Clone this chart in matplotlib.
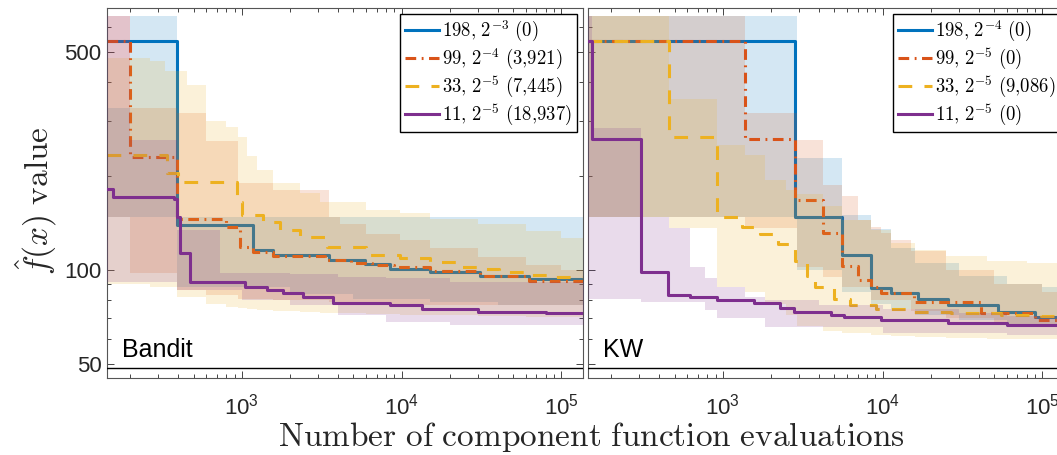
import numpy as np
import matplotlib.pyplot as plt
from matplotlib.font_manager import FontProperties
from matplotlib.ticker import FixedLocator, FixedFormatter, LogLocator, NullFormatter

plt.rcParams['font.family'] = ['Liberation Sans', 'DejaVu Sans']

colors = ['#0072BD', '#D95319', '#EDB120', '#7E2F8E']
dashes = [None, (3.5, 1.8, 0.6, 1.8), (4.5, 4.0), None]

# ---- Bandit panel: median lines (step, post) ----
bandit_198_x = [144, 394, 1177, 1570, 3500, 5900, 8450, 15100, 31000, 63000, 140000]
bandit_198_y = [540, 139, 116, 111.7, 107.7, 104.5, 101, 98.5, 96, 93.5, 91.7]
bandit_99_x = [144, 200, 394, 790, 976, 1177, 1570, 3300, 4800, 6500, 9000, 15100, 31000, 63000, 140000]
bandit_99_y = [540, 230, 145.7, 137.6, 118.8, 114.5, 110.9, 107.7, 105, 103.5, 102.5, 99, 95.5, 92.5, 90.6]
bandit_33_x = [144, 340, 400, 930, 1000, 1360, 1740, 2317, 3400, 6000, 9770, 15100, 23100, 31000, 41000, 63000, 90000, 140000]
bandit_33_y = [234, 205, 192, 165, 150, 142, 134.4, 127.8, 118.8, 112, 109.5, 106, 102.5, 100.5, 98.3, 96.2, 94.8, 93.4]
bandit_11_x = [144, 156, 374, 394, 411, 475, 1049, 1440, 1800, 2400, 3740, 8450, 13500, 30000, 80000, 140000]
bandit_11_y = [182, 171.5, 169, 148, 113, 91.5, 88.4, 86.3, 84.4, 82, 78.2, 77.2, 74.8, 73.5, 72.6, 72.2]

# ---- Bandit panel: min/max bands ----
bandit_198_bx = [144, 200, 394, 2000, 5000, 15000, 40000, 140000]
bandit_198_lo = [148, 148, 88, 84, 81, 79, 77.5, 77]
bandit_198_hi = [330, 649, 148, 148, 148, 148, 148, 148]
bandit_99_bx = [144, 200, 394, 598, 948, 1570, 3515, 4110, 6000, 9770, 15000, 30000, 60000, 100000, 140000]
bandit_99_lo = [148, 98, 86, 83, 81, 80, 79, 78.5, 78, 77.5, 77.2, 77, 77, 77, 77]
bandit_99_hi = [649, 330, 319, 258, 190, 181, 148, 140, 130, 125, 118, 110, 104, 100, 100]
bandit_33_bx = [144, 264, 331, 394, 455, 598, 798, 948, 1075, 1240, 1570, 2317, 3080, 6020, 9770, 15000, 30000, 60000, 100000, 140000]
bandit_33_lo = [90.5, 88, 88, 82, 82, 78, 76, 75.5, 75, 74.5, 74, 73.5, 73, 72.5, 72, 71.5, 71, 70.7, 70.7, 70.7]
bandit_33_hi = [478, 466, 435, 435, 392, 301, 288, 267, 231, 209, 190, 176, 165, 156, 152, 146, 140, 133, 127, 127]
bandit_11_bx = [144, 200, 394, 730, 1000, 2000, 4000, 8000, 20000, 140000]
bandit_11_lo = [91.5, 91.5, 86, 86, 80, 77, 72, 68, 66.5, 66.5]
bandit_11_hi = [649, 261, 134, 98, 98, 97, 95, 94, 91.5, 91.5]

# ---- KW panel: median lines ----
kw_198_x = [142, 2850, 5600, 8430, 11300, 16600, 25600, 52700, 90000, 140000]
kw_198_y = [540, 148, 111.7, 87.4, 84.2, 81, 77.5, 73.5, 70.5, 69.5]
kw_99_x = [142, 1380, 2850, 4220, 5600, 7000, 8430, 9790, 15700, 41500, 90000, 140000]
kw_99_y = [540, 262, 167.7, 131.6, 103.2, 92.9, 88.4, 84.2, 78.7, 72.6, 69, 68.3]
kw_33_x = [142, 460, 917, 1320, 1720, 2220, 2820, 3350, 3800, 4950, 6300, 9100, 14000, 27000, 55600, 99000, 140000]
kw_33_y = [540, 266, 148, 137, 130, 121, 107, 96, 88, 80.5, 77.2, 74.8, 73.5, 72.6, 71.7, 71.4, 71.4]
kw_11_x = [142, 151, 308, 454, 623, 916, 1560, 2290, 2770, 4730, 5720, 9790, 25600, 60000, 140000]
kw_11_y = [540, 262, 98.8, 83.2, 81.7, 80.1, 78.2, 75.4, 73.5, 71.7, 70.8, 69.2, 67.5, 66.5, 65.7]

# ---- KW panel: min/max bands ----
kw_198_bx = [142, 2900, 5600, 8430, 11300, 16000, 30000, 60000, 100000, 140000]
kw_198_lo = [148, 100, 85, 78, 75, 72, 69, 67, 66, 66]
kw_198_hi = [649, 228, 150, 135, 118, 105, 96, 90, 88, 88]
kw_99_bx = [142, 1380, 2900, 4220, 5600, 7000, 8430, 9800, 11300, 15000, 25000, 50000, 100000, 140000]
kw_99_lo = [148, 136, 102, 95, 88, 88, 80, 80, 80, 74, 70, 67, 67, 67]
kw_99_hi = [649, 318, 261, 187, 172, 145, 137.6, 131, 125, 115, 100, 90, 85, 85]
kw_33_bx = [142, 460, 917, 1380, 1845, 2500, 2900, 4220, 5600, 8430, 11300, 16000, 25000, 45000, 80000, 140000]
kw_33_lo = [148, 136, 88, 85, 78, 72, 66, 64, 63, 62, 61.5, 61, 60.5, 60, 60, 60]
kw_33_hi = [649, 352, 251, 234, 194, 180, 175, 160, 145, 134, 122, 116, 111, 107, 105, 105]
kw_11_bx = [142, 151, 308, 460, 620, 773, 916, 1380, 1845, 4000, 10000, 30000, 60000, 140000]
kw_11_lo = [81, 81, 79, 79, 79, 74.4, 70.2, 70.2, 65.5, 65.5, 63, 63, 62, 62]
kw_11_hi = [649, 285, 148, 136, 102, 94.3, 88.2, 82, 80, 77, 75, 73, 71, 71]

bandit_labels = [r'$198{,}\ 2^{-3}\ (0)$', r'$99{,}\ 2^{-4}\ (3{,}921)$',
                 r'$33{,}\ 2^{-5}\ (7{,}445)$', r'$11{,}\ 2^{-5}\ (18{,}937)$']
kw_labels = [r'$198{,}\ 2^{-4}\ (0)$', r'$99{,}\ 2^{-5}\ (0)$',
             r'$33{,}\ 2^{-5}\ (9{,}086)$', r'$11{,}\ 2^{-5}\ (0)$']

optimum = 48.5

bandit_lines = [(bandit_198_x, bandit_198_y), (bandit_99_x, bandit_99_y),
                (bandit_33_x, bandit_33_y), (bandit_11_x, bandit_11_y)]
bandit_bands = [(bandit_198_bx, bandit_198_lo, bandit_198_hi), (bandit_99_bx, bandit_99_lo, bandit_99_hi),
                (bandit_33_bx, bandit_33_lo, bandit_33_hi), (bandit_11_bx, bandit_11_lo, bandit_11_hi)]
kw_lines = [(kw_198_x, kw_198_y), (kw_99_x, kw_99_y), (kw_33_x, kw_33_y), (kw_11_x, kw_11_y)]
kw_bands = [(kw_198_bx, kw_198_lo, kw_198_hi), (kw_99_bx, kw_99_lo, kw_99_hi),
            (kw_33_bx, kw_33_lo, kw_33_hi), (kw_11_bx, kw_11_lo, kw_11_hi)]


def draw_panel(ax, lines, bands, labels, name, leg_loc, leg_anchor):
    handles = []
    for k in range(4):
        lx, ly = lines[k]
        bx, blo, bhi = bands[k]
        ln, = ax.step(lx, ly, where='post', color=colors[k], lw=2.2, zorder=2 + 0.2 * k)
        if dashes[k] is not None:
            ln.set_dashes(dashes[k])
        ax.fill_between(bx, blo, bhi, step='post', color=colors[k], alpha=0.17,
                        lw=0, zorder=2.1 + 0.2 * k)
        handles.append(ln)

    ax.axhline(optimum, color='black', lw=1, zorder=4)
    ax.set_xscale('log')
    ax.set_yscale('log')
    ax.set_xlim(143, 137000)
    ax.set_ylim(45.1, 690)

    ax.xaxis.set_major_locator(FixedLocator([1e3, 1e4, 1e5]))
    ax.xaxis.set_minor_locator(LogLocator(base=10, subs=np.arange(2, 10)))
    ax.xaxis.set_minor_formatter(NullFormatter())
    ax.yaxis.set_major_locator(FixedLocator([50, 100, 500]))
    ax.yaxis.set_major_formatter(FixedFormatter(['50', '100', '500']))
    ax.yaxis.set_minor_locator(FixedLocator([60, 70, 80, 90, 200, 300, 400, 600]))
    ax.yaxis.set_minor_formatter(NullFormatter())

    ax.tick_params(which='both', direction='in', top=True, right=True,
                   color='#262626', labelcolor='#262626', width=0.6)
    ax.tick_params(which='major', length=5)
    ax.tick_params(which='minor', length=2.8)
    ax.tick_params(axis='x', labelsize=16, pad=11)
    ax.tick_params(axis='y', labelsize=16, pad=4)
    for sp in ax.spines.values():
        sp.set_color('#555555')
        sp.set_linewidth(0.8)

    ax.text(0.031, 0.057, name, transform=ax.transAxes, fontsize=18,
            va='baseline', color='black', zorder=6)

    leg = ax.legend(handles, labels, loc=leg_loc, bbox_to_anchor=leg_anchor,
                    prop=FontProperties(size=13.5, math_fontfamily='cm'),
                    frameon=True, fancybox=False, edgecolor='black', framealpha=1,
                    borderpad=0.25, labelspacing=0.15, handlelength=1.8,
                    handletextpad=0.2, borderaxespad=0)
    leg.get_frame().set_linewidth(1.0)
    leg.set_zorder(10)


fig = plt.figure(figsize=(10.57, 4.55), dpi=100)
ax1 = fig.add_axes([107 / 1057, 77 / 455, 476 / 1057, 370 / 455])
ax2 = fig.add_axes([588 / 1057, 77 / 455, 476 / 1057, 370 / 455])

draw_panel(ax1, bandit_lines, bandit_bands, bandit_labels, 'Bandit', 'upper right', (0.987, 0.984))
draw_panel(ax2, kw_lines, kw_bands, kw_labels, 'KW', 'upper left', (0.641, 0.984))
ax2.tick_params(labelleft=False)

fig.text(0.559, 0.003, r'$\mathrm{Number\ of\ component\ function\ evaluations}$',
         ha='center', va='bottom', fontsize=24, color='#262626', math_fontfamily='cm')
fig.text(0.034, 0.56, r'$\hat{f}(x)\ \mathrm{value}$', rotation=90, ha='center', va='center',
         fontsize=24, color='#262626', math_fontfamily='cm')

fig.savefig('out.png', dpi=100)
